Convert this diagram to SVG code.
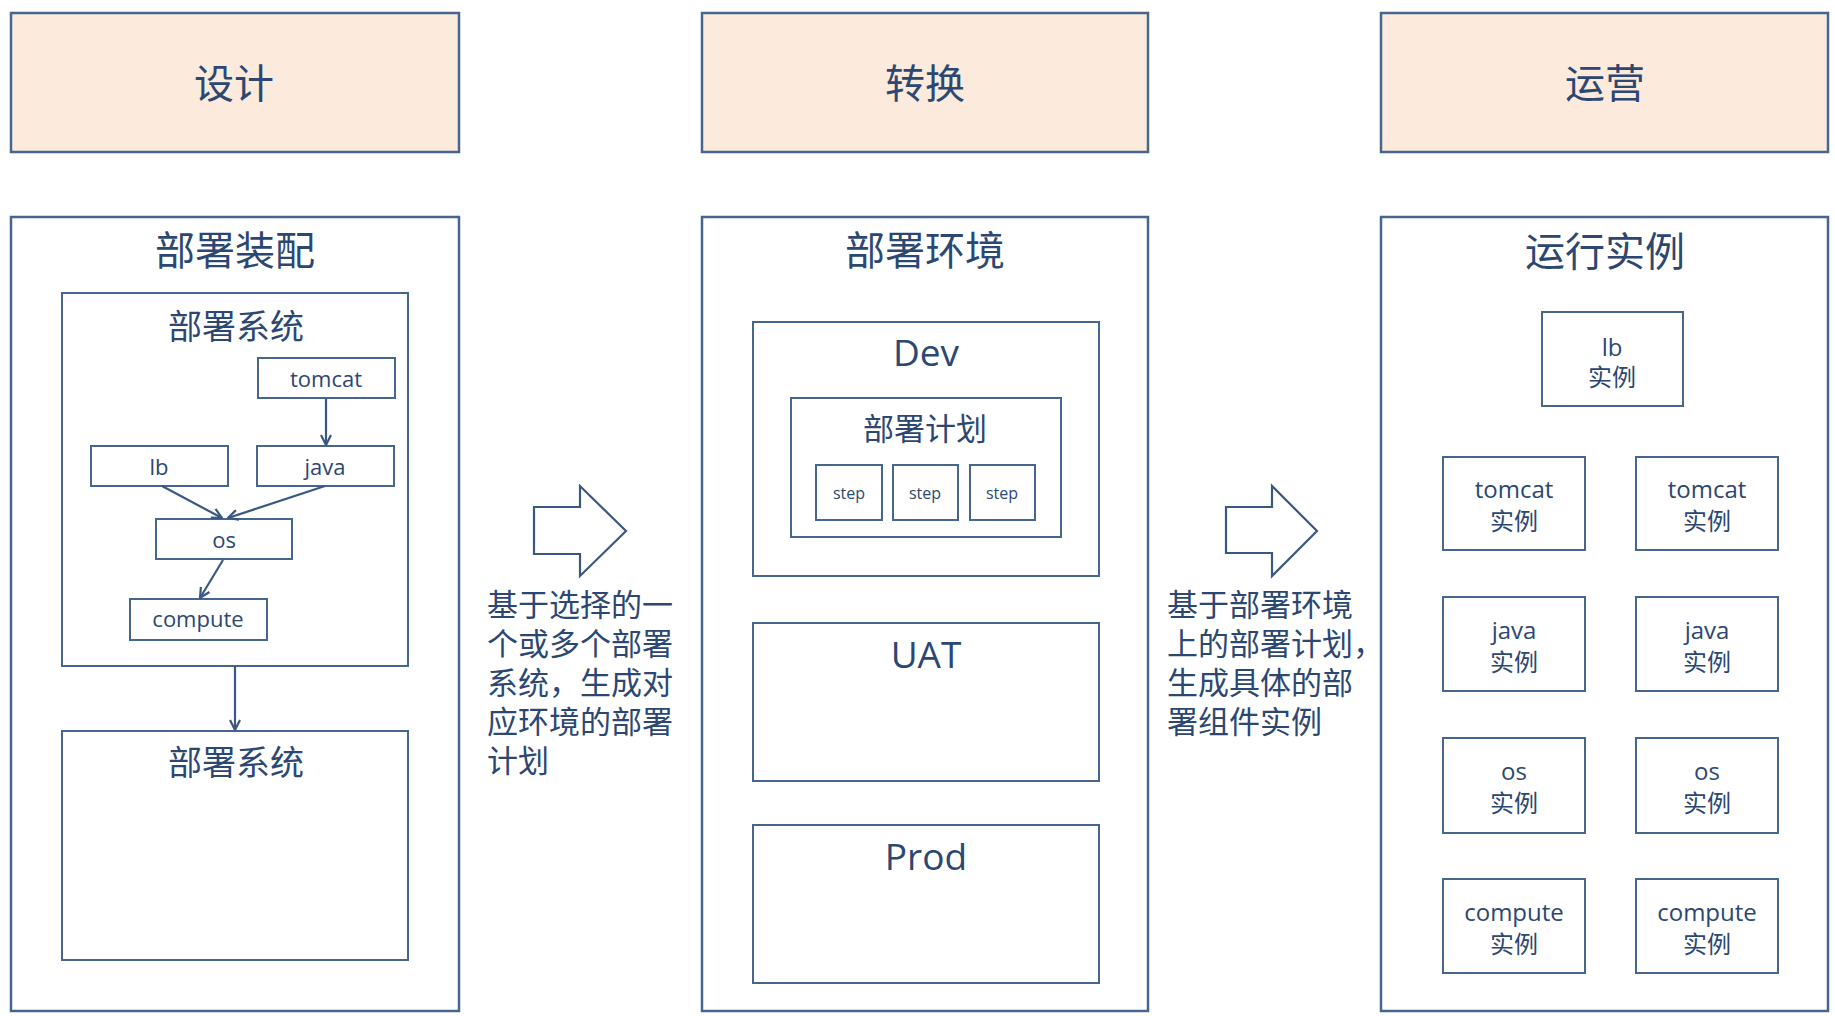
<svg xmlns="http://www.w3.org/2000/svg" width="1835" height="1016" viewBox="0 0 1835 1016">
<style>
text{font-family:"Open Sans","Noto Sans CJK SC",sans-serif;fill:#2C4772;text-anchor:middle}
.hdr{fill:#FCEADC;stroke:#46658F;stroke-width:2.5}
.box{fill:#FFFFFF;stroke:#46658F;stroke-width:2.5}
.sub{fill:#FFFFFF;stroke:#46658F;stroke-width:2}
.big{font-size:40px}
.mid{font-size:34px}
.env{font-size:37px}
.sm{font-size:22px}
.inst{font-size:24px}
.note{font-size:31px;text-anchor:start}
.step{font-size:16px}
.ln{stroke:#3A5882;stroke-width:2.2;fill:none}
.fat{fill:#FFFFFF;stroke:#3A5882;stroke-width:2.2}
</style>
<defs>
<marker id="ah" viewBox="0 0 12 12" refX="11" refY="6" markerWidth="12" markerHeight="12" markerUnits="userSpaceOnUse" orient="auto">
<path d="M1,1 L11,6 L1,11" fill="none" stroke="#3A5882" stroke-width="2.2"/>
</marker>
</defs>
<rect width="1835" height="1016" fill="#FFFFFF"/>

<g id="hdr-design"><rect class="hdr" x="11" y="13" width="448" height="139"/><text class="big" x="234" y="98">设计</text></g>
<g id="hdr-convert"><rect class="hdr" x="702" y="13" width="446" height="139"/><text class="big" x="925" y="98">转换</text></g>
<g id="hdr-operate"><rect class="hdr" x="1381" y="13" width="447" height="139"/><text class="big" x="1605" y="98">运营</text></g>

<g id="assembly"><rect class="box" x="11" y="217" width="448" height="794"/><text class="big" x="235" y="265">部署装配</text></g>
<g id="system1"><rect class="sub" x="62" y="293" width="346" height="373"/><text class="mid" x="236" y="339">部署系统</text></g>
<g id="n-tomcat"><rect class="sub" x="258" y="358" width="137" height="40"/><text class="sm" x="326" y="387">tomcat</text></g>
<g id="n-lb"><rect class="sub" x="91" y="446" width="137" height="40"/><text class="sm" x="159" y="475">lb</text></g>
<g id="n-java"><rect class="sub" x="257" y="446" width="137" height="40"/><text class="sm" x="325" y="475">java</text></g>
<g id="n-os"><rect class="sub" x="156" y="519" width="136" height="40"/><text class="sm" x="224" y="548">os</text></g>
<g id="n-compute"><rect class="sub" x="130" y="599" width="137" height="41"/><text class="sm" x="198" y="627">compute</text></g>
<g id="system2"><rect class="sub" x="62" y="731" width="346" height="229"/><text class="mid" x="236" y="775">部署系统</text></g>

<g id="environment"><rect class="box" x="702" y="217" width="446" height="794"/><text class="big" x="925" y="265">部署环境</text></g>
<g id="env-dev"><rect class="sub" x="753" y="322" width="346" height="254"/><text class="env" x="926" y="366">Dev</text></g>
<g id="plan"><rect class="sub" x="791" y="398" width="270" height="139"/><text style="font-size:31px" x="925" y="440">部署计划</text></g>
<g id="step1"><rect class="sub" x="816" y="465" width="66" height="55"/><text class="step" x="849" y="499">step</text></g>
<g id="step2"><rect class="sub" x="893" y="465" width="65" height="55"/><text class="step" x="925" y="499">step</text></g>
<g id="step3"><rect class="sub" x="970" y="465" width="65" height="55"/><text class="step" x="1002" y="499">step</text></g>
<g id="env-uat"><rect class="sub" x="753" y="623" width="346" height="158"/><text class="env" x="926" y="668">UAT</text></g>
<g id="env-prod"><rect class="sub" x="753" y="825" width="346" height="158"/><text class="env" x="926" y="870">Prod</text></g>

<g id="runtime"><rect class="box" x="1381" y="217" width="447" height="794"/><text class="big" x="1605" y="266">运行实例</text></g>
<g id="i-lb"><rect class="sub" x="1542" y="312" width="141" height="94"/><text class="inst" x="1612" y="356">lb</text><text class="inst" x="1612" y="386">实例</text></g>
<g id="i-tomcat1"><rect class="sub" x="1443" y="457" width="142" height="93"/><text class="inst" x="1514" y="498">tomcat</text><text class="inst" x="1514" y="530">实例</text></g>
<g id="i-tomcat2"><rect class="sub" x="1636" y="457" width="142" height="93"/><text class="inst" x="1707" y="498">tomcat</text><text class="inst" x="1707" y="530">实例</text></g>
<g id="i-java1"><rect class="sub" x="1443" y="597" width="142" height="94"/><text class="inst" x="1514" y="639">java</text><text class="inst" x="1514" y="671">实例</text></g>
<g id="i-java2"><rect class="sub" x="1636" y="597" width="142" height="94"/><text class="inst" x="1707" y="639">java</text><text class="inst" x="1707" y="671">实例</text></g>
<g id="i-os1"><rect class="sub" x="1443" y="738" width="142" height="95"/><text class="inst" x="1514" y="780">os</text><text class="inst" x="1514" y="812">实例</text></g>
<g id="i-os2"><rect class="sub" x="1636" y="738" width="142" height="95"/><text class="inst" x="1707" y="780">os</text><text class="inst" x="1707" y="812">实例</text></g>
<g id="i-compute1"><rect class="sub" x="1443" y="879" width="142" height="94"/><text class="inst" x="1514" y="921">compute</text><text class="inst" x="1514" y="953">实例</text></g>
<g id="i-compute2"><rect class="sub" x="1636" y="879" width="142" height="94"/><text class="inst" x="1707" y="921">compute</text><text class="inst" x="1707" y="953">实例</text></g>

<g id="transition1">
<polygon class="fat" points="534,507 580,507 580,486 626,531 580,576 580,554 534,554"/>
<text class="note" x="487" y="616">基于选择的一</text>
<text class="note" x="487" y="655">个或多个部署</text>
<text class="note" x="487" y="694">系统，生成对</text>
<text class="note" x="487" y="733">应环境的部署</text>
<text class="note" x="487" y="772">计划</text>
</g>
<g id="transition2">
<polygon class="fat" points="1226,507 1272,507 1272,486 1317,531 1272,576 1272,553 1226,553"/>
<text class="note" x="1167" y="616">基于部署环境</text>
<text class="note" x="1167" y="655">上的部署计划，</text>
<text class="note" x="1167" y="694">生成具体的部</text>
<text class="note" x="1167" y="733">署组件实例</text>
</g>

<g id="connectors">
<line class="ln" x1="326" y1="399" x2="326" y2="445" marker-end="url(#ah)"/>
<line class="ln" x1="162" y1="486" x2="222" y2="518" marker-end="url(#ah)"/>
<line class="ln" x1="325" y1="486" x2="228" y2="518" marker-end="url(#ah)"/>
<line class="ln" x1="223" y1="560" x2="200" y2="598" marker-end="url(#ah)"/>
<line class="ln" x1="235" y1="666" x2="235" y2="730" marker-end="url(#ah)"/>
</g>
</svg>
